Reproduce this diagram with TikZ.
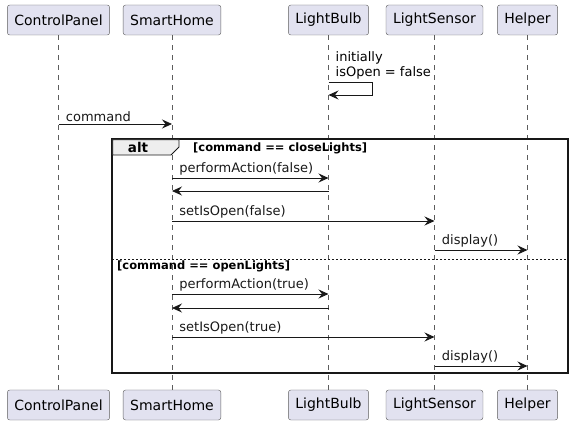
\documentclass[tikz,border=0pt]{standalone}
\usepackage{fontspec}
\setmainfont{DejaVu Sans}
\usetikzlibrary{arrows.meta}
\usetikzlibrary{calc}
\definecolor{partfill}{HTML}{E2E2F0}
\definecolor{ink}{HTML}{181818}
\definecolor{tabfill}{HTML}{EEEEEE}

\begin{document}
\begin{tikzpicture}[x=1pt, y=-1pt,
    part/.style={draw=ink!70, fill=partfill, rounded corners=2.5pt, minimum height=30pt, inner xsep=7pt, font=\fontsize{14}{16}\selectfont},
    life/.style={ink!70, dash pattern=on 5pt off 5pt, line width=0.5pt},
    msg/.style={ink, line width=0.8pt, -{Stealth[length=10pt, width=9pt, inset=3.5pt]}},
    lbl/.style={font=\fontsize{13}{15}\selectfont, inner sep=0pt, anchor=south west},
    guard/.style={font=\bfseries\fontsize{11.5}{13}\selectfont, inner sep=0pt}]

    \useasboundingbox (0,0) rectangle (574,425);

    % participants, top row
    \node (CP) [part] at (58.5,20) {ControlPanel};
    \node (SH) [part] at (172,20) {SmartHome};
    \node (LB) [part] at (328.5,20) {LightBulb};
    \node (LS) [part] at (434.5,20) {LightSensor};
    \node (HP) [part] at (527.5,20) {Helper};

    % participants, bottom row
    \node (CPb) [part] at (58.5,405) {ControlPanel};
    \node (SHb) [part] at (172,405) {SmartHome};
    \node (LBb) [part] at (328.5,405) {LightBulb};
    \node (LSb) [part] at (434.5,405) {LightSensor};
    \node (HPb) [part] at (527.5,405) {Helper};

    % lifelines
    \draw[life] (CP) -- (CPb);
    \draw[life] (SH) -- (SHb);
    \draw[life] (LB) -- (LBb);
    \draw[life] (LS) -- (LSb);
    \draw[life] (HP) -- (HPb);

    % message rows
    \coordinate (r0) at (0,82);
    \coordinate (r0b) at (0,95);
    \coordinate (r1) at (0,124);
    \coordinate (r2) at (0,178);
    \coordinate (r3) at (0,191);
    \coordinate (r4) at (0,221);
    \coordinate (r5) at (0,250);
    \coordinate (r6) at (0,294);
    \coordinate (r7) at (0,308);
    \coordinate (r8) at (0,337);
    \coordinate (r9) at (0,366);
    \coordinate (turn) at (372,0);

    % alt frame
    \draw[ink, line width=1.4pt] (112,139) rectangle (568,373);
    \draw[ink, fill=tabfill, line width=0.8pt] (112.7,139.7) -- (179,139.7) -- (179,147) -- (171,155) -- (112.7,155) -- cycle;
    \node (alt) [font=\bfseries\fontsize{13.5}{15}\selectfont, inner sep=0pt] at (138,147.5) {alt};
    \node (g1) [guard, anchor=west] at (193,148) {[command == closeLights]};
    \draw[ink, line width=0.6pt, dash pattern=on 2pt off 2pt] (112,259) -- (568,259);
    \node (g2) [guard, anchor=west] at (117,266.5) {[command == openLights]};

    % self message
    \draw[msg] (LB |- r0) -- (turn |- r0) -- (turn |- r0b) -- (LB |- r0b);
    \node (init) [lbl, align=left, font=\fontsize{13}{15}\selectfont] at ($(LB |- r0)+(7,-3)$) {initially\\isOpen = false};

    % messages
    \draw[msg] (CP |- r1) -- node[lbl, pos=0, xshift=7pt, yshift=2pt] {command} (SH |- r1);
    \draw[msg] (SH |- r2) -- node[lbl, pos=0, xshift=7pt, yshift=2pt] {performAction(false)} (LB |- r2);
    \draw[msg] (LB |- r3) -- (SH |- r3);
    \draw[msg] (SH |- r4) -- node[lbl, pos=0, xshift=7pt, yshift=2pt] {setIsOpen(false)} (LS |- r4);
    \draw[msg] (LS |- r5) -- node[lbl, pos=0, xshift=7pt, yshift=2pt] {display()} (HP |- r5);
    \draw[msg] (SH |- r6) -- node[lbl, pos=0, xshift=7pt, yshift=2pt] {performAction(true)} (LB |- r6);
    \draw[msg] (LB |- r7) -- (SH |- r7);
    \draw[msg] (SH |- r8) -- node[lbl, pos=0, xshift=7pt, yshift=2pt] {setIsOpen(true)} (LS |- r8);
    \draw[msg] (LS |- r9) -- node[lbl, pos=0, xshift=7pt, yshift=2pt] {display()} (HP |- r9);

\end{tikzpicture}
\end{document}
